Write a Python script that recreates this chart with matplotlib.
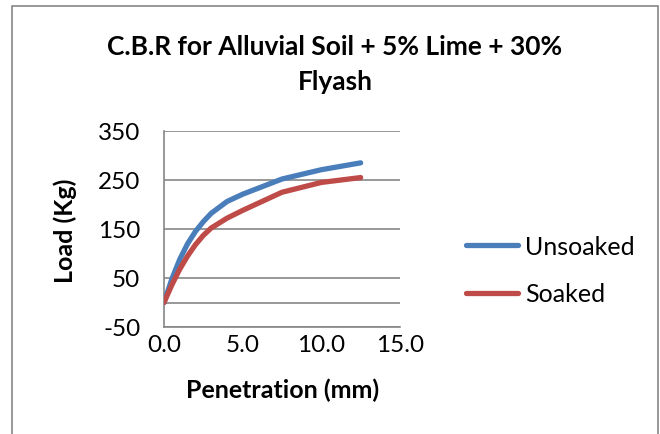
import matplotlib
matplotlib.use("Agg")
import matplotlib.pyplot as plt
from matplotlib.patches import Rectangle
from matplotlib.lines import Line2D

plt.rcParams['font.family'] = ['Lato', 'DejaVu Sans']
plt.rcParams['axes.unicode_minus'] = False

# CBR test readings
penetration_mm = [0, 0.5, 1.0, 1.5, 2.0, 2.5, 3.0, 4.0, 5.0, 7.5, 10.0, 12.5]
unsoaked_load = [0, 48, 88, 120, 145, 165, 182, 206, 221, 252, 271, 285]
soaked_load = [0, 36, 68, 95, 118, 137, 152, 172, 188, 225, 245, 255]

series_names = ["Unsoaked", "Soaked"]
y_ticks = [-50, 50, 150, 250, 350]
x_ticks = [0.0, 5.0, 10.0, 15.0]
x_tick_labels = ["0.0", "5.0", "10.0", "15.0"]

BLUE = "#4A7EBB"
RED = "#BE4B48"
GRID = "#868686"

W, H = 660, 435
fig = plt.figure(figsize=(W / 100, H / 100), dpi=100)

# chart area frame
fig.patches.append(Rectangle((12 / W, -0.05), (658 - 12) / W, 1.05 - 7 / H,
                             transform=fig.transFigure, fill=False,
                             edgecolor=GRID, lw=1.2))

ax = fig.add_axes([164 / W, 1 - 328 / H, 236 / W, 196 / H])
ax.set_xlim(0, 15)
ax.set_ylim(-50, 350)
ax.set_yticks(y_ticks)
ax.set_xticks(x_ticks)
ax.set_xticklabels(x_tick_labels)
ax.yaxis.grid(True, color=GRID, lw=1.2)
ax.set_axisbelow(True)
ax.axhline(0, color=GRID, lw=1.2, zorder=1)
for side in ("top", "right", "bottom"):
    ax.spines[side].set_visible(False)
ax.spines["left"].set_color(GRID)
ax.spines["left"].set_linewidth(1.2)
ax.axhline(-50, color=GRID, lw=1.2, clip_on=False)
ax.tick_params(axis="both", length=0, labelsize=17.5, colors="black")
ax.tick_params(axis="y", pad=17)
ax.tick_params(axis="x", pad=5)

l1, = ax.plot(penetration_mm, unsoaked_load, color=BLUE, lw=3.8,
              solid_capstyle="round", solid_joinstyle="round", zorder=3)
l2, = ax.plot(penetration_mm, soaked_load, color=RED, lw=3.8,
              solid_capstyle="round", solid_joinstyle="round", zorder=3)

fig.text(335 / W, 1 - 47 / H, "C.B.R for Alluvial Soil + 5% Lime + 30%",
         ha="center", va="center", fontsize=19, fontweight="bold")
fig.text(335 / W, 1 - 82 / H, "Flyash",
         ha="center", va="center", fontsize=19, fontweight="bold")
fig.text(283 / W, 1 - 390 / H, "Penetration (mm)",
         ha="center", va="center", fontsize=18, fontweight="bold")
fig.text(65 / W, 1 - 231 / H, "Load (Kg)", rotation=90,
         ha="center", va="center", fontsize=18, fontweight="bold")

handles = [Line2D([], [], color=BLUE, lw=3.8, solid_capstyle="round"),
           Line2D([], [], color=RED, lw=3.8, solid_capstyle="round")]
fig.legend(handles, series_names, loc="center left",
           bbox_to_anchor=(466 / W, 1 - 271 / H), frameon=False,
           borderpad=0, borderaxespad=0,
           fontsize=18, handlelength=2.08, handletextpad=0.28,
           labelspacing=0.98)

fig.savefig("out.png", dpi=100)
